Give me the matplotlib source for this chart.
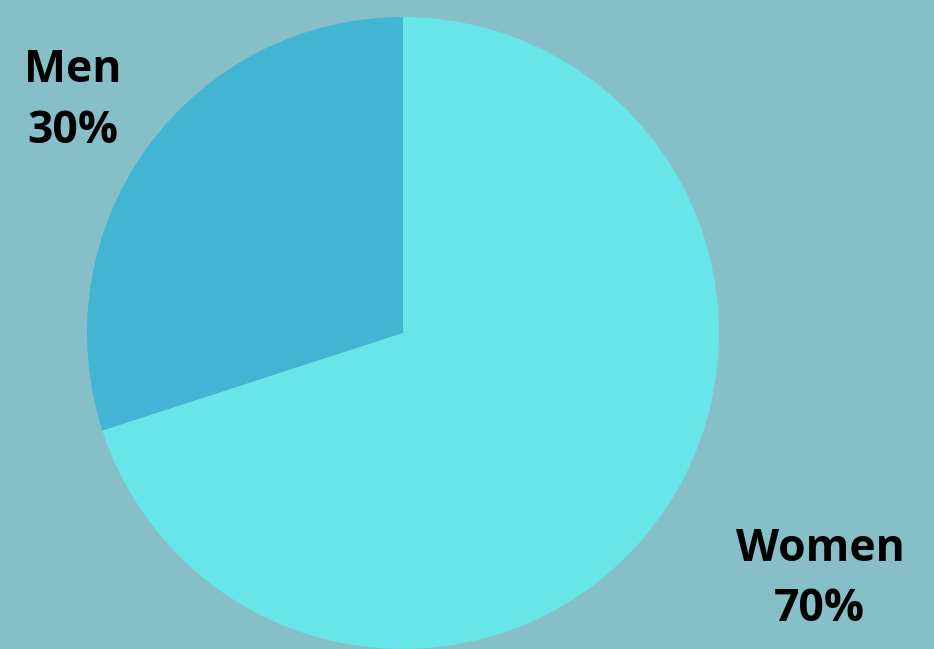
import matplotlib
matplotlib.use("Agg")
import matplotlib.pyplot as plt

labels = ["Men", "Women"]
shares = [30, 70]
colors = ["#42B5D4", "#68E5E8"]
bg = "#87BFC9"

W, H = 934, 649
fig = plt.figure(figsize=(W / 100, H / 100), dpi=100, facecolor=bg)
ax = fig.add_axes([0, 0, 1, 1])
ax.set_facecolor(bg)
ax.pie(shares, colors=colors, startangle=90, counterclock=True,
       center=(403, H - 333), radius=316,
       wedgeprops=dict(linewidth=0))
ax.set_xlim(0, W)
ax.set_ylim(0, H)
ax.set_aspect("equal")
ax.axis("off")

font = dict(family=["Open Sans", "DejaVu Sans"], fontweight="bold", fontsize=32,
            color="black", ha="center", va="baseline")
label_pos = [((73, H - 82), (73, H - 143)), ((820, H - 561), (819, H - 621))]
for lab, val, (p1, p2) in zip(labels, shares, label_pos):
    ax.text(p1[0], p1[1], lab, **font)
    ax.text(p2[0], p2[1], f"{val}%", **font)

fig.savefig("out.png", dpi=100, facecolor=bg)
